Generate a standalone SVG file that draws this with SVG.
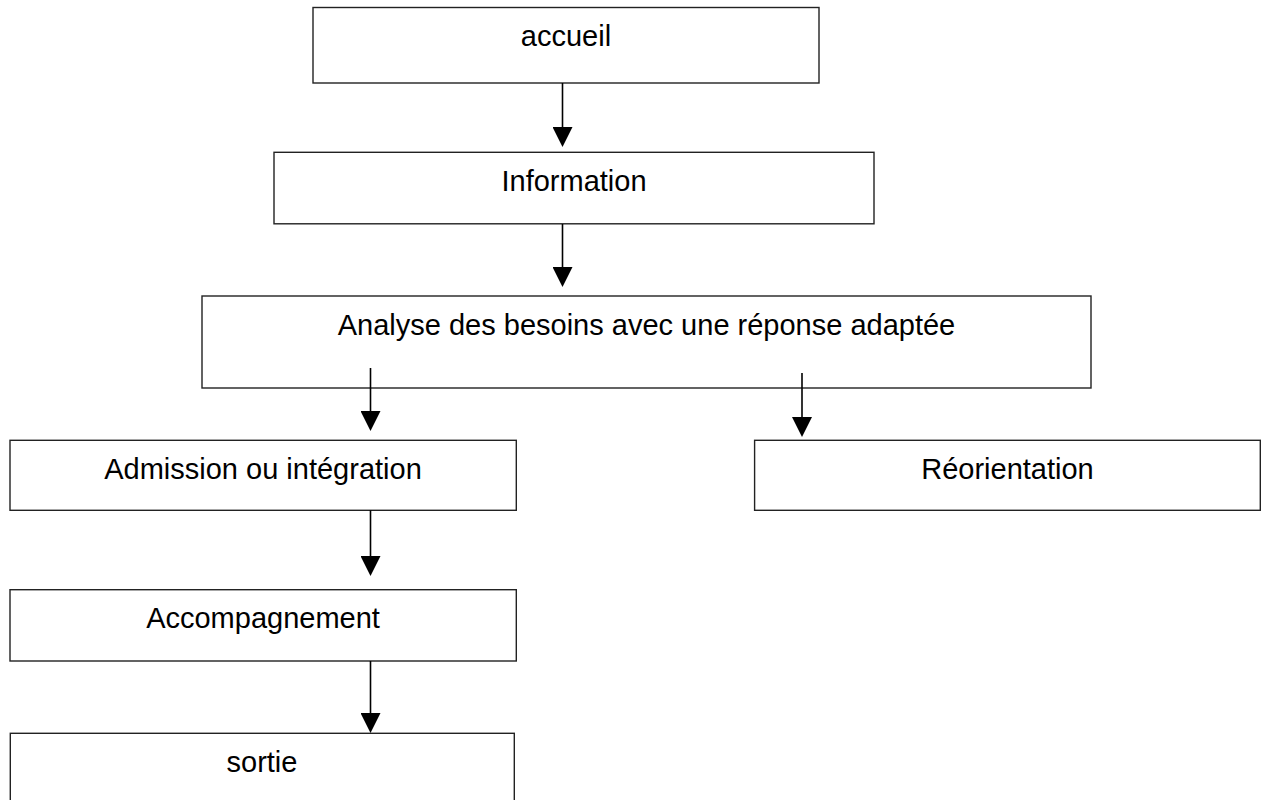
<svg xmlns="http://www.w3.org/2000/svg" width="1269" height="800" viewBox="0 0 1269 800">
  <style>
    .box { fill: #ffffff; stroke: #222222; stroke-width: 1.4; }
    .label { font-family: "Liberation Sans", Arial, sans-serif; font-size: 29px; fill: #000000; text-anchor: middle; }
    .conn { stroke: #000000; stroke-width: 1.6; fill: none; }
  </style>
  <defs>
    <marker id="arrow" markerUnits="userSpaceOnUse" markerWidth="20" markerHeight="20" refX="10" refY="10" orient="auto" viewBox="0 0 20 20">
      <path d="M0,0 L20,10 L0,20 Z" fill="#000000"/>
    </marker>
  </defs>
  <rect width="1269" height="800" fill="#ffffff"/>

  <g id="node-accueil">
    <rect class="box" x="313" y="7.5" width="506" height="75.5"/>
    <text class="label" x="566" y="46">accueil</text>
  </g>
  <g id="node-information">
    <rect class="box" x="274" y="152.3" width="600" height="71.5"/>
    <text class="label" x="574" y="191">Information</text>
  </g>
  <g id="node-analyse">
    <rect class="box" x="202" y="296" width="889" height="92"/>
    <text class="label" x="646.5" y="335">Analyse des besoins avec une réponse adaptée</text>
  </g>
  <g id="node-admission">
    <rect class="box" x="10" y="440.3" width="506.3" height="70"/>
    <text class="label" x="263" y="478.5">Admission ou intégration</text>
  </g>
  <g id="node-reorientation">
    <rect class="box" x="754.6" y="440.3" width="505.7" height="70"/>
    <text class="label" x="1007.5" y="478.5">Réorientation</text>
  </g>
  <g id="node-accompagnement">
    <rect class="box" x="10" y="589.7" width="506.3" height="71.3"/>
    <text class="label" x="263" y="627.5">Accompagnement</text>
  </g>
  <g id="node-sortie">
    <rect class="box" x="10.3" y="733.3" width="504" height="80"/>
    <text class="label" x="262" y="771.7">sortie</text>
  </g>

  <g id="connectors">
    <line class="conn" x1="562.5" y1="83" x2="562.5" y2="137" marker-end="url(#arrow)"/>
    <line class="conn" x1="562.5" y1="224" x2="562.5" y2="277" marker-end="url(#arrow)"/>
    <line class="conn" x1="370.5" y1="368" x2="370.5" y2="421" marker-end="url(#arrow)"/>
    <line class="conn" x1="802" y1="373" x2="802" y2="427" marker-end="url(#arrow)"/>
    <line class="conn" x1="370.5" y1="510.3" x2="370.5" y2="566" marker-end="url(#arrow)"/>
    <line class="conn" x1="370.5" y1="661" x2="370.5" y2="723" marker-end="url(#arrow)"/>
  </g>
</svg>
